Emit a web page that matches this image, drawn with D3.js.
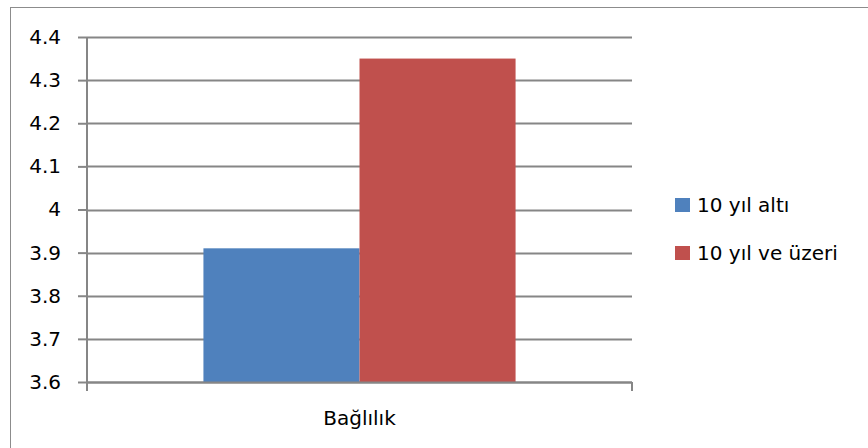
<!DOCTYPE html>
<html><head><meta charset="utf-8">
<script src="https://cdn.jsdelivr.net/npm/d3@7"></script>
<style>body{margin:0;background:#fff}svg{display:block}text{font-family:"DejaVu Sans",sans-serif;}</style>
</head><body>
<svg id="c" width="868" height="448"></svg>
<script>
const categories = ["Bağlılık"];
const seriesNames = ["10 yıl altı", "10 yıl ve üzeri"];
const seriesValues = [[3.91], [4.35]];
const colors = ["#4F81BD", "#C0504D"];
const yTicks = [3.6, 3.7, 3.8, 3.9, 4.0, 4.1, 4.2, 4.3, 4.4];
const yTickLabels = ["3.6", "3.7", "3.8", "3.9", "4", "4.1", "4.2", "4.3", "4.4"];

(function () {
const FONT = "'DejaVu Sans',sans-serif";
const FS = 20;
const svg = d3.select("#c");
svg.append("rect").attr("x", 10.5).attr("y", 7.5).attr("width", 900).attr("height", 500)
  .attr("fill", "none").attr("stroke", "#8c8c8c").attr("stroke-width", 1);

const pl = 87, pr = 632, pt = 37, pb = 382;
const y = d3.scaleLinear().domain([3.6, 4.4]).range([pb, pt]);
const x0 = d3.scaleBand().domain(categories).range([pl, pr]).paddingInner(0).paddingOuter(0.373);
const x1 = d3.scaleBand().domain(d3.range(seriesNames.length)).range([0, x0.bandwidth()]);

// gridlines
svg.append("g").selectAll("line").data(yTicks).join("line")
  .attr("x1", pl).attr("x2", pr)
  .attr("y1", d => Math.round(y(d)) + 0.5).attr("y2", d => Math.round(y(d)) + 0.5)
  .attr("stroke", "#868686").attr("stroke-width", 2);

// bars
categories.forEach((c, ci) => {
  seriesValues.forEach((vals, si) => {
    svg.append("rect")
      .attr("x", x0(c) + x1(si)).attr("width", x1.bandwidth())
      .attr("y", y(vals[ci])).attr("height", y(3.6) - y(vals[ci]))
      .attr("fill", colors[si]);
  });
});

// y axis
const yAxis = d3.axisLeft(y).tickValues(yTicks).tickFormat((d, i) => yTickLabels[i]).tickSize(9).tickPadding(17);
const gy = svg.append("g").attr("transform", `translate(${pl},0)`).call(yAxis);
gy.select(".domain").attr("stroke", "#868686").attr("stroke-width", 2).attr("d", `M0,${pt}V${pb}`);
gy.selectAll(".tick line").attr("stroke", "#868686").attr("stroke-width", 2);
gy.selectAll(".tick text").attr("font-size", FS).attr("fill", "#000").style("font-family", FONT);

// x axis
svg.append("line").attr("x1", pl).attr("x2", pr).attr("y1", pb + 0.5).attr("y2", pb + 0.5)
  .attr("stroke", "#868686").attr("stroke-width", 2);
[pl, pr].forEach(px => svg.append("line").attr("x1", px).attr("x2", px).attr("y1", pb).attr("y2", pb + 9)
  .attr("stroke", "#868686").attr("stroke-width", 2));
svg.selectAll(".xlab").data(categories).join("text")
  .attr("x", d => x0(d) + x0.bandwidth() / 2).attr("y", 425)
  .attr("text-anchor", "middle").attr("font-size", FS).attr("fill", "#000").style("font-family", FONT).text(d => d);

// legend
const lg = svg.append("g");
seriesNames.forEach((n, i) => {
  const cy = 205 + i * 48;
  lg.append("rect").attr("x", 675).attr("y", cy - 7).attr("width", 15).attr("height", 14).attr("fill", colors[i]);
  lg.append("text").attr("x", 697).attr("y", cy + 7).attr("font-size", FS).attr("fill", "#000").style("font-family", FONT).text(n);
});
})();
</script>
</body></html>
